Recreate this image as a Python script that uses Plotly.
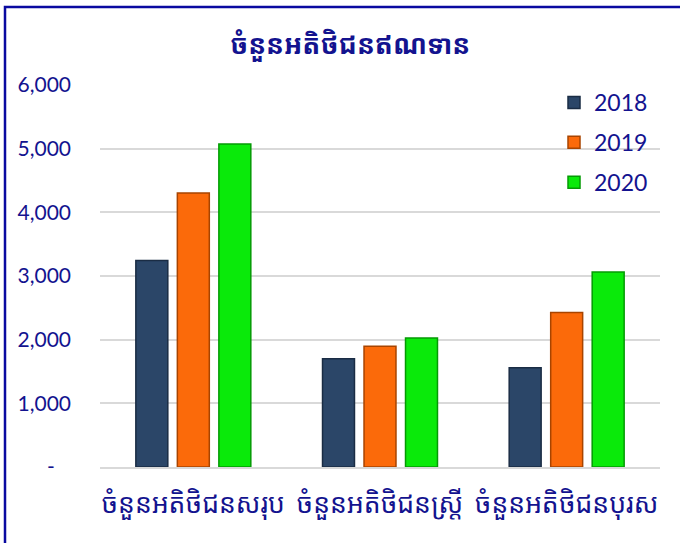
import plotly.graph_objects as go

categories = ["ចំនួនអតិថិជនសរុប", "ចំនួនអតិថិជនស្ត្រី", "ចំនួនអតិថិជនបុរស"]
years = ["2018", "2019", "2020"]
values_2018 = [3245, 1700, 1560]
values_2019 = [4302, 1895, 2425]
values_2020 = [5072, 2027, 3063]
colors = ["#2b4668", "#fb6a0a", "#0aea0a"]
edge_colors = ["#1a2c44", "#a84400", "#049a04"]
tick_vals = [0, 1000, 2000, 3000, 4000, 5000, 6000]
tick_text = ["-\u00a0\u00a0\u00a0", "1,000", "2,000", "3,000", "4,000", "5,000", "6,000"]
title_text = "ចំនួនអតិថិជនឥណទាន"

TEXT = "#13138f"
khmer_font = "Khmer OS, Noto Sans Khmer, Khmer OS System, Noto Sans, sans-serif"

fig = go.Figure()
for yr, vals, c, ec in zip(years, [values_2018, values_2019, values_2020], colors, edge_colors):
    fig.add_trace(go.Bar(
        name=yr, x=categories, y=vals, legendgroup=yr,
        marker=dict(color=c, line=dict(color=ec, width=1.5)),
    ))

W, H = 680, 543
L, R, T, B = 100, 20, 85, 76
pw, ph = W - L - R, H - T - B

def px_x(p):
    return (p - L) / pw

def px_y(p):
    return (H - B - p) / ph

fig.update_layout(
    width=W, height=H,
    margin=dict(l=L, r=R, t=T, b=B, autoexpand=False),
    paper_bgcolor="white", plot_bgcolor="white",
    barmode="group", bargap=0.333, bargroupgap=0.23,
    title=dict(text=f"<b>{title_text}</b>", x=0.515, xanchor="center", y=1 - 45 / H, yanchor="middle",
               font=dict(size=26.5, color=TEXT, family=khmer_font)),
    yaxis=dict(range=[0, 6000], tickvals=tick_vals, ticktext=tick_text, automargin=False,
               showgrid=True, gridcolor="#d9d9d9", gridwidth=1.5, zeroline=False,
               showline=False, ticks="", ticklabelstandoff=28,
               tickfont=dict(size=21, color=TEXT, family="Lato, Open Sans, sans-serif")),
    xaxis=dict(showline=True, linecolor="#d9d9d9", linewidth=1.5, ticks="", automargin=False,
               ticklabelstandoff=12,
               tickfont=dict(size=26.5, color=TEXT, family=khmer_font)),
    legend=dict(x=px_x(554), y=px_y(81), xanchor="left", yanchor="top",
                font=dict(size=23, color=TEXT, family="Lato, Open Sans, sans-serif"),
                tracegroupgap=7, bgcolor="rgba(0,0,0,0)"),
    showlegend=True,
)

fig.add_shape(type="rect", xref="paper", yref="paper",
              x0=px_x(5), x1=px_x(700), y0=px_y(570), y1=px_y(7),
              line=dict(color="#0a0aa0", width=2.5), fillcolor="rgba(0,0,0,0)", layer="above")

fig.write_html("out.html", config={"displayModeBar": False},
               post_script="document.body.style.margin='0px';")
